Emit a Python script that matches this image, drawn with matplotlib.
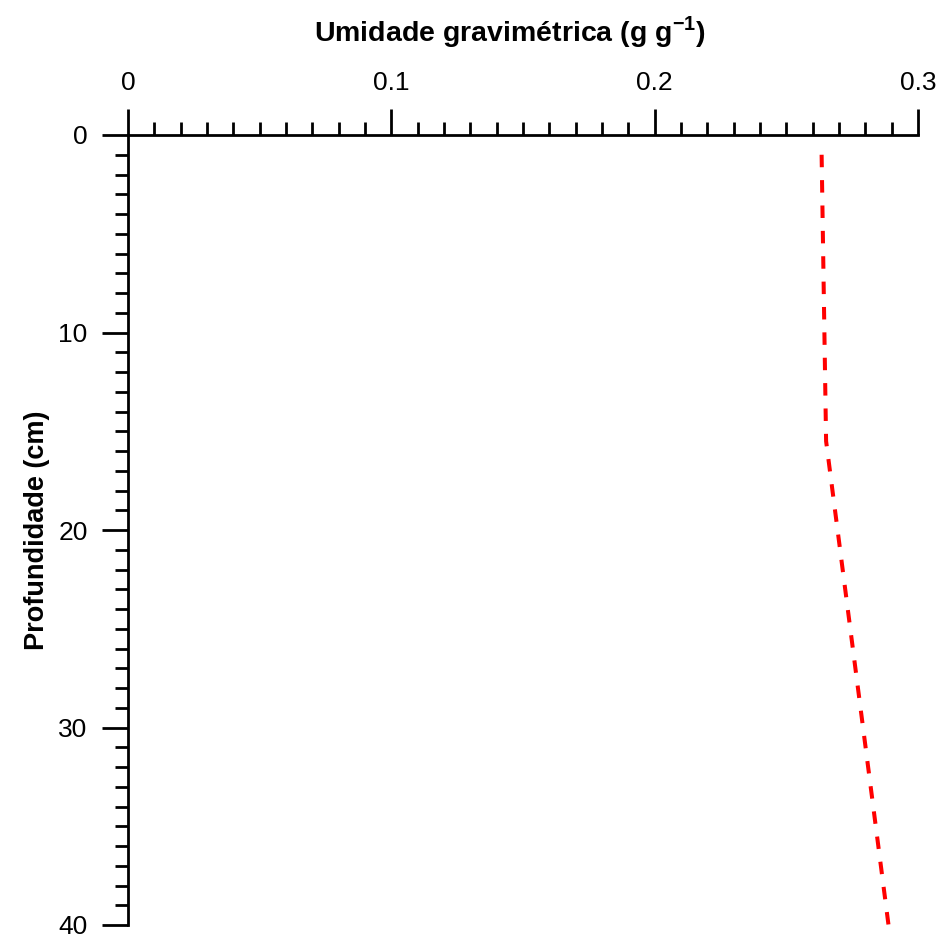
import matplotlib.pyplot as plt
from matplotlib.ticker import MultipleLocator

plt.rcParams['font.family'] = ['Liberation Sans', 'DejaVu Sans']
plt.rcParams['mathtext.fontset'] = 'custom'
plt.rcParams['mathtext.rm'] = 'Liberation Sans'
plt.rcParams['mathtext.bf'] = 'Liberation Sans:bold'

# Umidade gravimétrica (g g-1) e profundidade (cm)
umidade = [0.2634, 0.2651, 0.2888]
profundidade = [1.0, 15.5, 40.0]
xticks = [0, 0.1, 0.2, 0.3]
xticklabels = ['0', '0.1', '0.2', '0.3']

fig = plt.figure(figsize=(9.42, 9.39), dpi=100)
ax = fig.add_axes([128 / 942, 1 - 925 / 939, 790 / 942, 790 / 939])

ax.plot(umidade, profundidade, color='red', linestyle=(0, (3.1, 3.2)), linewidth=2.9)

ax.set_xlim(0, 0.3)
ax.set_ylim(40, 0)
ax.xaxis.set_ticks_position('top')
ax.xaxis.set_label_position('top')
ax.set_xticks(xticks)
ax.set_xticklabels(xticklabels)
ax.xaxis.set_minor_locator(MultipleLocator(0.01))
ax.yaxis.set_major_locator(MultipleLocator(10))
ax.yaxis.set_minor_locator(MultipleLocator(1))

for s in ['right', 'bottom']:
    ax.spines[s].set_visible(False)
for s in ['left', 'top']:
    ax.spines[s].set_linewidth(2)

ax.tick_params(which='major', direction='out', length=19, width=2, labelsize=19, pad=10)
ax.tick_params(which='minor', direction='out', length=9.5, width=2)

ax.set_xlabel('Umidade gravimétrica (g g$^{\\mathbf{-1}}$)', fontsize=20.5, fontweight='bold')
ax.xaxis.set_label_coords(0.483, 1.118)
ax.set_ylabel('Profundidade (cm)', fontsize=19.5, fontweight='bold', labelpad=6)

fig.savefig('out.png', dpi=100)
